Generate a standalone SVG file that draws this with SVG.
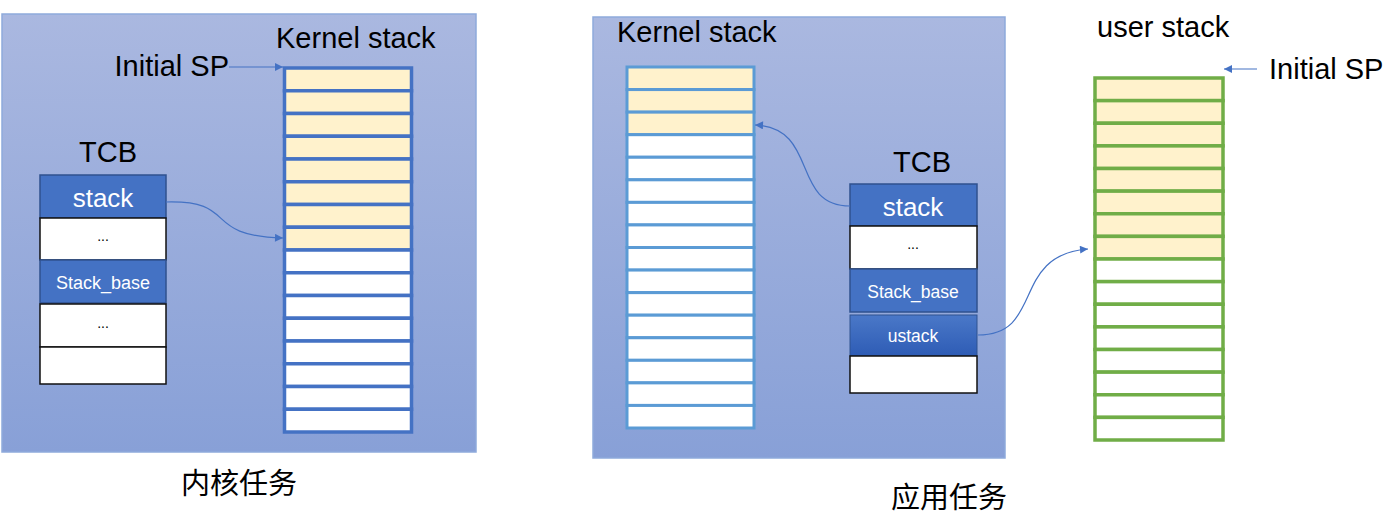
<svg xmlns="http://www.w3.org/2000/svg" width="1400" height="532" viewBox="0 0 1400 532">
<defs>
<linearGradient id="panelGrad" x1="0" y1="0" x2="0" y2="1">
<stop offset="0" stop-color="#aab8e0"/>
<stop offset="1" stop-color="#88a0d7"/>
</linearGradient>
<linearGradient id="ustackGrad" x1="0" y1="0" x2="0" y2="1">
<stop offset="0" stop-color="#4a78c8"/>
<stop offset="1" stop-color="#2e5cb5"/>
</linearGradient>
<marker id="arrow" viewBox="0 0 10 10" refX="10" refY="5" markerWidth="10" markerHeight="8" markerUnits="userSpaceOnUse" orient="auto">
<path d="M0,0 L10,5 L0,10 z" fill="#4472c4"/>
</marker>
</defs>
<style>
.panel{fill:url(#panelGrad);stroke:#8eaadb;stroke-width:1.5}
.lbl{font-family:"Liberation Sans",Arial,sans-serif;fill:#000}
.big{font-size:29px}
.cjk{font-family:"Liberation Sans","Noto Sans CJK SC",sans-serif;font-size:29px;fill:#000}
.ks{stroke:#4472c4;stroke-width:3.5}
.ks2{stroke:#5b9bd5;stroke-width:3}
.us{stroke:#70ad47;stroke-width:3.5}
.y{fill:#fff2cc}
.w{fill:#ffffff}
.tcbB{fill:#4472c4;stroke:#2f528f;stroke-width:1.5}
.tcbW{fill:#ffffff;stroke:#111;stroke-width:1.5}
.wt{font-family:"Liberation Sans",Arial,sans-serif;fill:#fff;text-anchor:middle}
.dots{font-family:"Liberation Sans",Arial,sans-serif;fill:#000;font-size:14px;text-anchor:middle}
.conn{fill:none;stroke:#4472c4;stroke-width:1.2}
</style>

<g id="panel-left">
<rect class="panel" x="2" y="14" width="474" height="438"/>
</g>
<g id="panel-right">
<rect class="panel" x="593" y="17" width="412" height="441"/>
</g>

<g id="kernel-stack-left">
<text class="lbl big" x="276" y="48">Kernel stack</text>
<rect class="ks y" x="284.5" y="68" width="127" height="22.75"/>
<rect class="ks y" x="284.5" y="90.75" width="127" height="22.75"/>
<rect class="ks y" x="284.5" y="113.5" width="127" height="22.75"/>
<rect class="ks y" x="284.5" y="136.25" width="127" height="22.75"/>
<rect class="ks y" x="284.5" y="159" width="127" height="22.75"/>
<rect class="ks y" x="284.5" y="181.75" width="127" height="22.75"/>
<rect class="ks y" x="284.5" y="204.5" width="127" height="22.75"/>
<rect class="ks y" x="284.5" y="227.25" width="127" height="22.75"/>
<rect class="ks w" x="284.5" y="250" width="127" height="22.75"/>
<rect class="ks w" x="284.5" y="272.75" width="127" height="22.75"/>
<rect class="ks w" x="284.5" y="295.5" width="127" height="22.75"/>
<rect class="ks w" x="284.5" y="318.25" width="127" height="22.75"/>
<rect class="ks w" x="284.5" y="341" width="127" height="22.75"/>
<rect class="ks w" x="284.5" y="363.75" width="127" height="22.75"/>
<rect class="ks w" x="284.5" y="386.5" width="127" height="22.75"/>
<rect class="ks w" x="284.5" y="409.25" width="127" height="22.75"/>
</g>

<g id="initial-sp-left">
<text class="lbl big" x="229" y="76" text-anchor="end">Initial SP</text>
</g>

<g id="tcb-left">
<text class="lbl big" x="108" y="162" text-anchor="middle">TCB</text>
<rect class="tcbB" x="40" y="175" width="126" height="43"/>
<text class="wt" x="103" y="207" font-size="26">stack</text>
<rect class="tcbW" x="40" y="218" width="126" height="42"/>
<text class="dots" x="103" y="241">...</text>
<rect class="tcbB" x="40" y="260" width="126" height="43"/>
<text class="wt" x="103" y="289" font-size="18">Stack_base</text>
<rect class="tcbW" x="40" y="304" width="126" height="43"/>
<text class="dots" x="103" y="328">...</text>
<rect class="tcbW" x="40" y="347" width="126" height="37"/>
</g>

<g id="kernel-stack-right">
<text class="lbl big" x="617" y="42">Kernel stack</text>
<rect class="ks2 y" x="627" y="67" width="127" height="22.56"/>
<rect class="ks2 y" x="627" y="89.56" width="127" height="22.57"/>
<rect class="ks2 y" x="627" y="112.13" width="127" height="22.56"/>
<rect class="ks2 w" x="627" y="134.69" width="127" height="22.56"/>
<rect class="ks2 w" x="627" y="157.25" width="127" height="22.56"/>
<rect class="ks2 w" x="627" y="179.81" width="127" height="22.57"/>
<rect class="ks2 w" x="627" y="202.38" width="127" height="22.56"/>
<rect class="ks2 w" x="627" y="224.94" width="127" height="22.56"/>
<rect class="ks2 w" x="627" y="247.5" width="127" height="22.56"/>
<rect class="ks2 w" x="627" y="270.06" width="127" height="22.57"/>
<rect class="ks2 w" x="627" y="292.63" width="127" height="22.56"/>
<rect class="ks2 w" x="627" y="315.19" width="127" height="22.56"/>
<rect class="ks2 w" x="627" y="337.75" width="127" height="22.56"/>
<rect class="ks2 w" x="627" y="360.31" width="127" height="22.57"/>
<rect class="ks2 w" x="627" y="382.88" width="127" height="22.56"/>
<rect class="ks2 w" x="627" y="405.44" width="127" height="22.56"/>
</g>

<g id="tcb-right">
<text class="lbl big" x="922" y="172" text-anchor="middle">TCB</text>
<rect class="tcbB" x="850" y="184" width="127" height="42"/>
<text class="wt" x="913" y="216" font-size="26">stack</text>
<rect class="tcbW" x="850" y="226" width="127" height="43"/>
<text class="dots" x="913" y="249">...</text>
<rect class="tcbB" x="850" y="269" width="127" height="43"/>
<text class="wt" x="913" y="298" font-size="17.5">Stack_base</text>
<rect x="850" y="315" width="127" height="41" fill="url(#ustackGrad)" stroke="#2f528f" stroke-width="1"/>
<text class="wt" x="913" y="342" font-size="17.5">ustack</text>
<rect class="tcbW" x="850" y="356" width="127" height="37"/>
</g>

<g id="user-stack">
<text class="lbl big" x="1097" y="37">user stack</text>
<rect class="us y" x="1095" y="78" width="128" height="22.63"/>
<rect class="us y" x="1095" y="100.63" width="128" height="22.62"/>
<rect class="us y" x="1095" y="123.25" width="128" height="22.63"/>
<rect class="us y" x="1095" y="145.88" width="128" height="22.62"/>
<rect class="us y" x="1095" y="168.5" width="128" height="22.63"/>
<rect class="us y" x="1095" y="191.13" width="128" height="22.62"/>
<rect class="us y" x="1095" y="213.75" width="128" height="22.63"/>
<rect class="us y" x="1095" y="236.38" width="128" height="22.62"/>
<rect class="us w" x="1095" y="259" width="128" height="22.63"/>
<rect class="us w" x="1095" y="281.63" width="128" height="22.62"/>
<rect class="us w" x="1095" y="304.25" width="128" height="22.63"/>
<rect class="us w" x="1095" y="326.88" width="128" height="22.62"/>
<rect class="us w" x="1095" y="349.5" width="128" height="22.63"/>
<rect class="us w" x="1095" y="372.13" width="128" height="22.62"/>
<rect class="us w" x="1095" y="394.75" width="128" height="22.63"/>
<rect class="us w" x="1095" y="417.38" width="128" height="22.62"/>
</g>

<g id="initial-sp-right">
<text class="lbl big" x="1269" y="79">Initial SP</text>
</g>

<g id="caption-left">
<text class="cjk" x="239" y="494" text-anchor="middle">内核任务</text>
</g>
<g id="caption-right">
<text class="cjk" x="949" y="508" text-anchor="middle">应用任务</text>
</g>

<g id="connectors">
<path class="conn" d="M229,67 L283,67" marker-end="url(#arrow)"/>
<path class="conn" d="M166,202 C240,200 200,236 283,238" marker-end="url(#arrow)"/>
<path class="conn" d="M850,206 C790,206 820,128 755,125" marker-end="url(#arrow)"/>
<path class="conn" d="M978,335 C1045,335 1010,255 1088,249" marker-end="url(#arrow)"/>
<path class="conn" d="M1257,69 L1224,69" marker-end="url(#arrow)"/>
</g>
</svg>
